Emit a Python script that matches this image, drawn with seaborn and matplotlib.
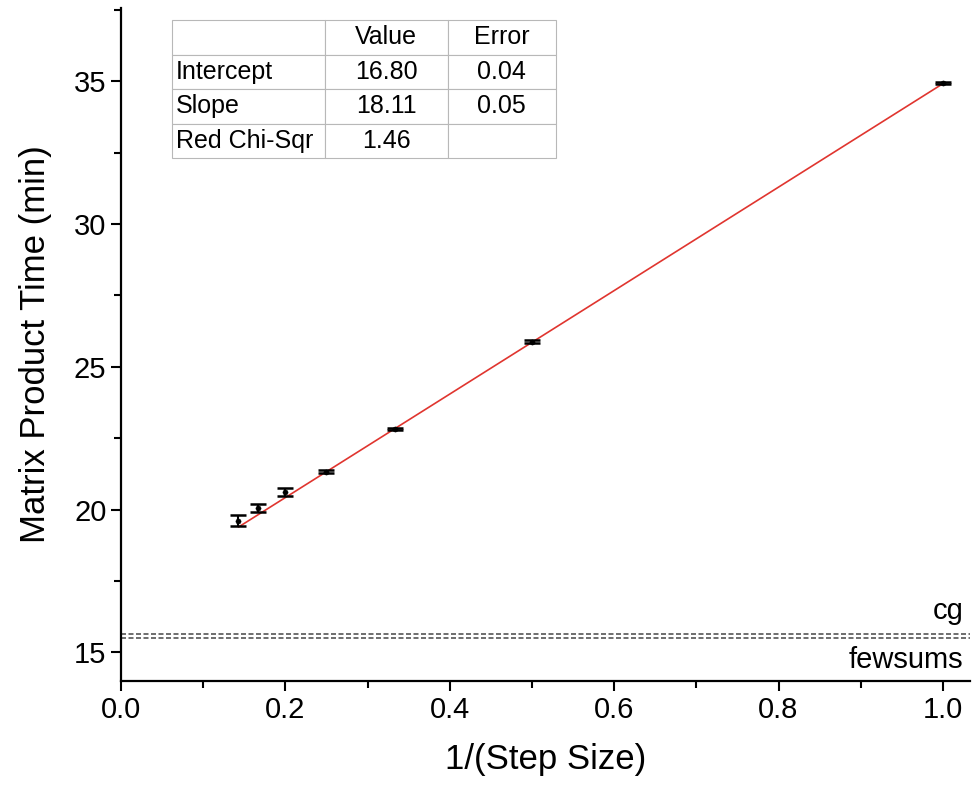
import numpy as np
import pandas as pd
import matplotlib
matplotlib.use('Agg')
import matplotlib.pyplot as plt
from matplotlib.ticker import MultipleLocator
import seaborn as sns

# measured points (1/step size vs time in min)
inv_step = [1/7, 1/6, 1/5, 1/4, 1/3, 1/2, 1.0]
time_min = [19.61, 20.07, 20.60, 21.33, 22.83, 25.88, 34.93]
time_err = [0.19, 0.14, 0.14, 0.04, 0.04, 0.04, 0.04]

# linear fit results
intercept = 16.80
slope = 18.11
fit_rows = ['Intercept', 'Slope', 'Red Chi-Sqr']
fit_values = ['16.80', '18.11', '1.46']
fit_errors = ['0.04', '0.05', '']

# reference levels
ref_names = ['cg', 'fewsums']
ref_levels = [15.66, 15.50]

sns.set_style('ticks')
plt.rcParams['font.family'] = ['Liberation Sans', 'DejaVu Sans']
for k in ['text.color', 'axes.labelcolor', 'xtick.color', 'ytick.color', 'axes.edgecolor']:
    plt.rcParams[k] = 'black'

fig = plt.figure(figsize=(9.8, 7.96), dpi=100)
ax = fig.add_axes([0.1235, 0.1445, 0.8663, 0.8455])

df = pd.DataFrame({'x': inv_step, 'y': time_min})
x_fit = np.linspace(min(inv_step), max(inv_step), 50)
fit_df = pd.DataFrame({'x': x_fit, 'y': intercept + slope * x_fit})

sns.lineplot(data=fit_df, x='x', y='y', ax=ax, color='#e0352f', lw=1.2)
ax.errorbar(inv_step, time_min, yerr=time_err, fmt='none', ecolor='black',
            elinewidth=1.5, capsize=5.5, capthick=1.8, zorder=3)
sns.scatterplot(data=df, x='x', y='y', ax=ax, color='black', s=14,
                marker='o', edgecolor='black', zorder=4)

for lvl in ref_levels:
    ax.axhline(lvl, color='#555555', lw=1.2, linestyle=(0, (3, 1.5)))
ax.text(0.992, (ref_levels[0] - 14) / (37.56 - 14) + 0.012, ref_names[0],
        transform=ax.transAxes, ha='right', va='bottom', fontsize=21)
ax.text(0.992, (ref_levels[1] - 14) / (37.56 - 14) - 0.012, ref_names[1],
        transform=ax.transAxes, ha='right', va='top', fontsize=21)

ax.set_xlim(0, 1.033)
ax.set_ylim(14, 37.56)
ax.xaxis.set_major_locator(MultipleLocator(0.2))
ax.xaxis.set_minor_locator(MultipleLocator(0.1))
ax.yaxis.set_major_locator(MultipleLocator(5))
ax.yaxis.set_minor_locator(MultipleLocator(2.5))
ax.tick_params(which='major', length=7, width=1.5, labelsize=21, direction='out')
ax.tick_params(which='minor', length=5, width=1.5, direction='out')
for s in ['left', 'bottom']:
    ax.spines[s].set_linewidth(1.6)
sns.despine(ax=ax)

ax.set_xlabel('1/(Step Size)', fontsize=25, labelpad=14)
ax.set_ylabel('Matrix Product Time (min)', fontsize=25, labelpad=16)

cell_text = [['', 'Value', 'Error']]
for name, v, e in zip(fit_rows, fit_values, fit_errors):
    cell_text.append([name, v, e])
tbl = ax.table(cellText=cell_text, colWidths=[0.18, 0.145, 0.127],
               bbox=[0.060, 0.777, 0.452, 0.205])
tbl.auto_set_font_size(False)
for (r, c), cell in tbl.get_celld().items():
    cell.set_edgecolor('#b8b8b8')
    cell.set_linewidth(0.8)
    cell.set_text_props(fontsize=18)
    cell.set_facecolor('white')
    if c == 0:
        cell.set_text_props(ha='left')
        cell.PAD = 0.025
    else:
        cell._loc = 'center'
        cell.set_text_props(ha='center')

fig.savefig('out.png', dpi=100)
